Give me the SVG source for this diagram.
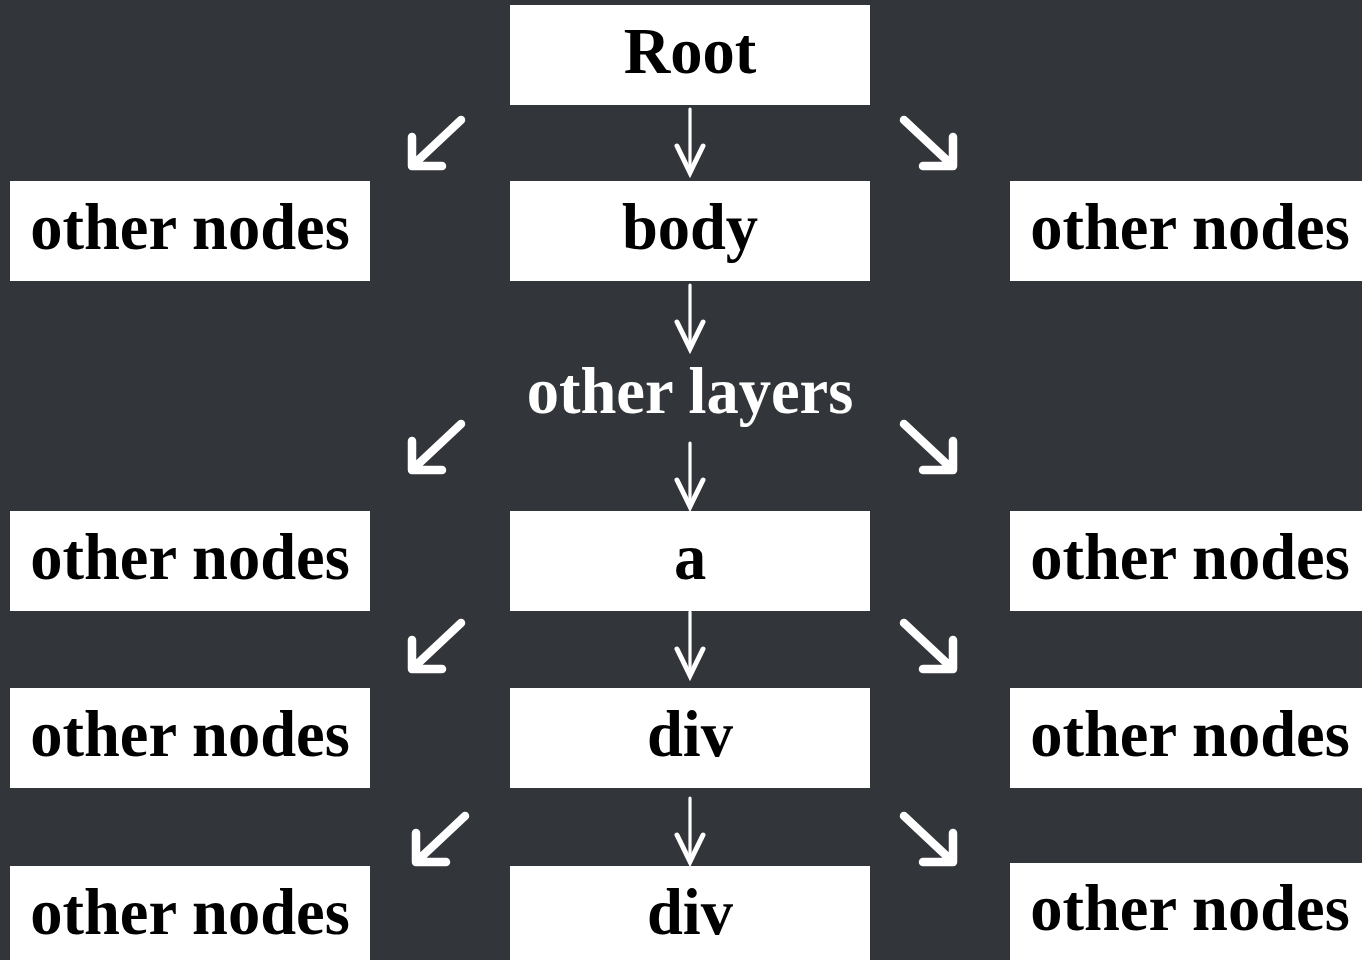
<svg xmlns="http://www.w3.org/2000/svg" xmlns:xlink="http://www.w3.org/1999/xlink" width="1362" height="960" viewBox="0 0 1362 960">
<style>
.box{fill:#ffffff;}
.lbl{font-family:"Liberation Serif","Times New Roman",serif;font-weight:bold;font-size:64.5px;fill:#000000;text-anchor:middle;}
.wlbl{font-family:"Liberation Serif","Times New Roman",serif;font-weight:bold;font-size:64.5px;fill:#ffffff;text-anchor:middle;}
.thick{fill:none;stroke:#ffffff;stroke-width:8.5;stroke-linecap:round;stroke-linejoin:round;}
.shaft{fill:none;stroke:#ffffff;stroke-width:3.2;stroke-linecap:round;}
.head{fill:none;stroke:#ffffff;stroke-width:5;stroke-linecap:round;stroke-linejoin:miter;}
</style>
<defs>
<g id="down"><path class="shaft" d="M0,0 L0,64"/><path class="head" d="M-13,37 L0,63.5 L13,37"/></g>
<g id="dl"><path class="thick" d="M49,-46 L0,0 M0,-29 L0,0 L30,0"/></g>
<g id="dr"><path class="thick" d="M-49,-46 L0,0 M0,-29 L0,0 L-30,0"/></g>
</defs>
<rect x="0" y="0" width="1362" height="960" fill="#323539"/>
<g id="n-root"><rect class="box" x="510" y="5" width="360" height="100"/><text class="lbl" x="690" y="73">Root</text></g>
<g id="n-other1l"><rect class="box" x="10" y="181" width="360" height="100"/><text class="lbl" x="190" y="249">other nodes</text></g>
<g id="n-body"><rect class="box" x="510" y="181" width="360" height="100"/><text class="lbl" x="690" y="249">body</text></g>
<g id="n-other1r"><rect class="box" x="1010" y="181" width="360" height="100"/><text class="lbl" x="1190" y="249">other nodes</text></g>
<g id="n-layers"><text class="wlbl" x="690" y="413">other layers</text></g>
<g id="n-other2l"><rect class="box" x="10" y="511" width="360" height="100"/><text class="lbl" x="190" y="579">other nodes</text></g>
<g id="n-a"><rect class="box" x="510" y="511" width="360" height="100"/><text class="lbl" x="690" y="579">a</text></g>
<g id="n-other2r"><rect class="box" x="1010" y="511" width="360" height="100"/><text class="lbl" x="1190" y="579">other nodes</text></g>
<g id="n-other3l"><rect class="box" x="10" y="688" width="360" height="100"/><text class="lbl" x="190" y="756">other nodes</text></g>
<g id="n-div1"><rect class="box" x="510" y="688" width="360" height="100"/><text class="lbl" x="690" y="756">div</text></g>
<g id="n-other3r"><rect class="box" x="1010" y="688" width="360" height="100"/><text class="lbl" x="1190" y="756">other nodes</text></g>
<g id="n-other4l"><rect class="box" x="10" y="866" width="360" height="100"/><text class="lbl" x="190" y="934">other nodes</text></g>
<g id="n-div2"><rect class="box" x="510" y="866" width="360" height="100"/><text class="lbl" x="690" y="934">div</text></g>
<g id="n-other4r"><rect class="box" x="1010" y="863" width="360" height="100"/><text class="lbl" x="1190" y="930">other nodes</text></g>
<g id="connectors">
<use xlink:href="#dl" transform="translate(412,166)"/>
<use xlink:href="#down" transform="translate(690,109)"/>
<use xlink:href="#dr" transform="translate(953,166)"/>
<use xlink:href="#down" transform="translate(690,285)"/>
<use xlink:href="#dl" transform="translate(412,470)"/>
<use xlink:href="#down" transform="translate(690,443)"/>
<use xlink:href="#dr" transform="translate(953,470)"/>
<use xlink:href="#dl" transform="translate(412,669)"/>
<use xlink:href="#down" transform="translate(690,612)"/>
<use xlink:href="#dr" transform="translate(953,669)"/>
<use xlink:href="#dl" transform="translate(416,862)"/>
<use xlink:href="#down" transform="translate(690,798)"/>
<use xlink:href="#dr" transform="translate(953,862)"/>
</g>
</svg>
